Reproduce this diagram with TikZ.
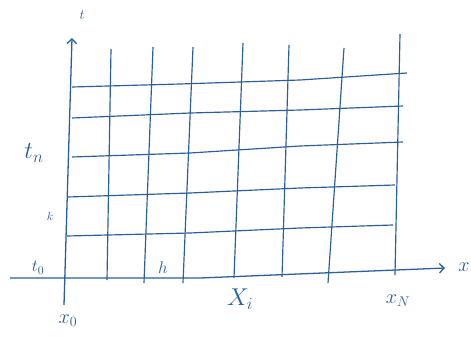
\documentclass[tikz,border=0pt]{standalone}
\usepackage{xcolor}
\usepackage{tikz}
\usetikzlibrary{arrows.meta}
\definecolor{GridInk}{HTML}{2A5E9C}
\definecolor{GridLight}{HTML}{FFFFFF}

\begin{document}
\begin{tikzpicture}[x=0.03cm,y=-0.03cm]
\path[use as bounding box] (0,0) rectangle (471,337);
\fill[GridLight] (0,0) rectangle (471,337);
% rows
\draw[GridInk,line width=1pt] (72,87) -- (180,84) -- (300,80) -- (407,73);
\draw[GridInk,line width=1pt] (72,118) -- (190,113) -- (300,110) -- (403,106);
\draw[GridInk,line width=1pt] (72,157) -- (190,153) -- (300,146) -- (403,142);
\draw[GridInk,line width=1pt] (68,197) -- (190,193) -- (300,188) -- (395,185);
\draw[GridInk,line width=1pt] (67,236) -- (190,233) -- (300,228) -- (393,225);
% columns
\draw[GridInk,line width=1pt] (107,280) -- (111,49);
\draw[GridInk,line width=1pt] (144,283) -- (153,47);
\draw[GridInk,line width=1pt] (183,283) -- (193,47);
\draw[GridInk,line width=1pt] (234,278) -- (243,43);
\draw[GridInk,line width=1pt] (282,277) -- (289,45);
\draw[GridInk,line width=1pt] (328,283) -- (344,48);
\draw[GridInk,line width=1pt] (395,275) -- (400,34);
% axes
\draw[GridInk,line width=1.1pt,-{Straight Barb[length=4pt,width=8pt]}] (64,305) -- (72,38);
\draw[GridInk,line width=1.1pt,-{Straight Barb[length=4pt,width=8pt]}] (10,278) -- (200,278) -- (445,268);
% labels
\node[GridInk] (tlab) at (82,15) {\large$t$};
\node[GridInk] (xlab) at (464,267) {\LARGE$x$};
\node[GridInk] (tn) at (34,153) {\huge$t_n$};
\node[GridInk] (klab) at (50,216) {\normalsize$k$};
\node[GridInk] (tzero) at (38,268) {\Large$t_0$};
\node[GridInk] (hlab) at (163,268) {\Large$h$};
\node[GridInk] (xzero) at (68,321) {\LARGE$x_0$};
\node[GridInk] (xi) at (240,299) {\huge$X_i$};
\node[GridInk] (xn) at (398,301) {\LARGE$x_N$};
\end{tikzpicture}
\end{document}
